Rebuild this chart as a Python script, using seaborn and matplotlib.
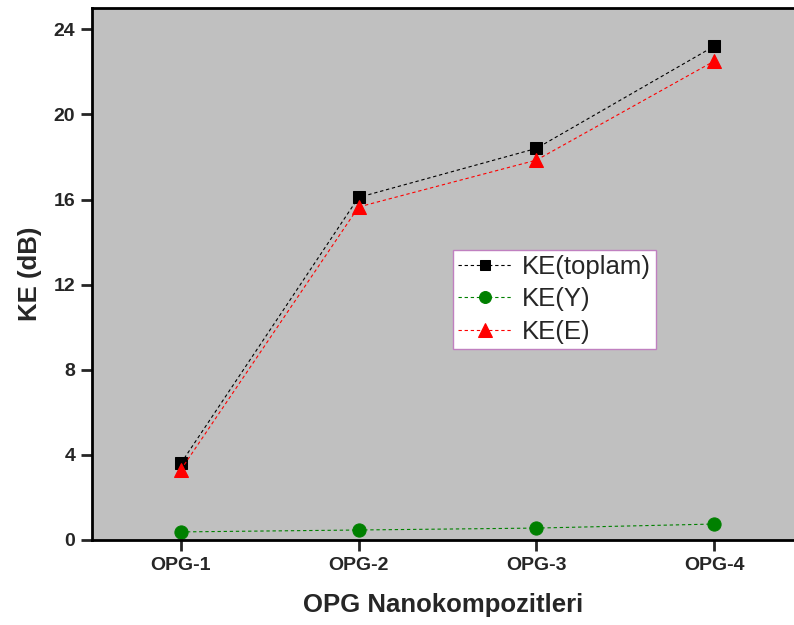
import pandas as pd
import matplotlib
matplotlib.use("Agg")
import matplotlib.pyplot as plt
import seaborn as sns

# Veriler
kategoriler = ["OPG-1", "OPG-2", "OPG-3", "OPG-4"]
ke_toplam = [3.6, 16.1, 18.4, 23.2]
ke_y = [0.38, 0.47, 0.56, 0.75]
ke_e = [3.3, 15.65, 17.85, 22.5]

sns.set_style("ticks")
plt.rcParams['font.family'] = ['Liberation Sans', 'DejaVu Sans']

fig = plt.figure(figsize=(7.94, 6.25), dpi=100)
ax = fig.add_axes([92/794, 85/625, 702/794, 532/625])
ax.set_facecolor("#c0c0c0")

seriler = [
    ("KE(toplam)", ke_toplam, "black", "s", 8.5),
    ("KE(Y)", ke_y, "#008000", "o", 9.5),
    ("KE(E)", ke_e, "red", "^", 10.5),
]
for ad, degerler, renk, isaret, boyut in seriler:
    df = pd.DataFrame({"x": kategoriler, "y": degerler})
    sns.lineplot(data=df, x="x", y="y", ax=ax, color=renk, marker=isaret,
                 markersize=boyut, markeredgecolor=renk, linestyle=(0, (3, 2.5)),
                 linewidth=0.8, label=ad)

ax.set_xlim(-0.5, 3.45)
ax.set_ylim(0, 25)
ax.set_yticks([0, 4, 8, 12, 16, 20, 24])
ax.set_xlabel("OPG Nanokompozitleri", fontsize=18.5, fontweight="bold", labelpad=14)
ax.set_ylabel("KE (dB)", fontsize=18.5, fontweight="bold", labelpad=8)
ax.tick_params(axis="both", direction="out", length=8, width=2, labelsize=14, pad=4)
for lbl in ax.get_xticklabels() + ax.get_yticklabels():
    lbl.set_fontweight("bold")

for s in ["left", "bottom", "top"]:
    ax.spines[s].set_linewidth(2)
    ax.spines[s].set_color("black")
ax.spines["right"].set_visible(False)

leg = ax.legend(loc="upper left", bbox_to_anchor=(0.514, 0.545), fontsize=18.5,
                frameon=True, fancybox=False, framealpha=1, edgecolor="#c080c0",
                handlelength=2.1, borderpad=0.2, labelspacing=0.32,
                handletextpad=0.4, borderaxespad=0, markerscale=0.9)
leg.get_frame().set_linewidth(1)

plt.savefig("out.png", dpi=100)
